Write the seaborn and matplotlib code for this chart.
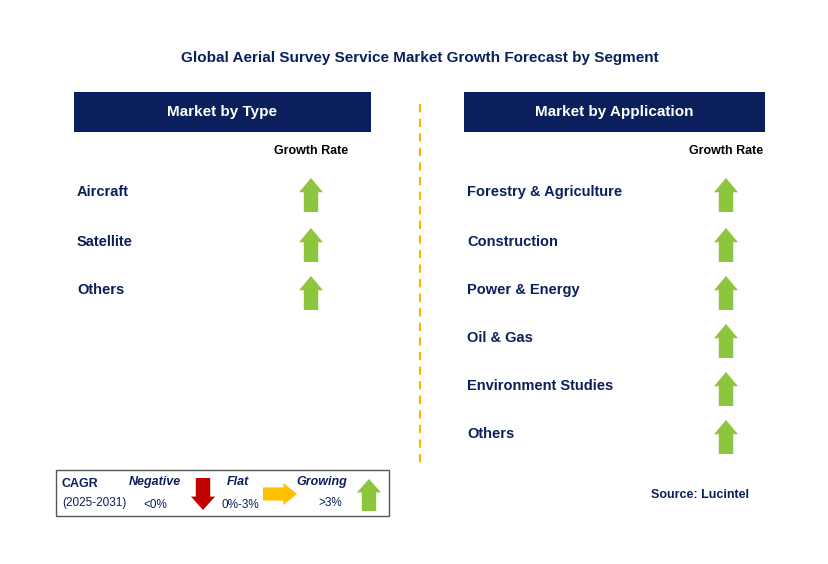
import matplotlib
matplotlib.use("Agg")
import matplotlib.pyplot as plt
import seaborn as sns
from matplotlib.patches import Polygon, Rectangle

sns.set_theme(style="white", font="Liberation Sans")

title = "Global Aerial Survey Service Market Growth Forecast by Segment"
type_segments = ["Aircraft", "Satellite", "Others"]
type_growth = ["Growing", "Growing", "Growing"]
app_segments = ["Forestry & Agriculture", "Construction", "Power & Energy",
                "Oil & Gas", "Environment Studies", "Others"]
app_growth = ["Growing"] * 6

NAVY = "#0b1f5c"
GREEN = "#8cc63f"
RED = "#c00000"
ORANGE = "#ffc000"

fig = plt.figure(figsize=(8.29, 5.64), dpi=100)
ax = fig.add_axes([0, 0, 1, 1])
ax.set_xlim(0, 829)
ax.set_ylim(564, 0)
ax.axis("off")


def up_arrow(cx, cy, color, w=24, h=34):
    hw = w / 2
    sw = w * 0.3
    pts = [(cx, cy - h / 2), (cx + hw, cy - h / 2 + h * 0.42), (cx + sw, cy - h / 2 + h * 0.42),
           (cx + sw, cy + h / 2), (cx - sw, cy + h / 2), (cx - sw, cy - h / 2 + h * 0.42),
           (cx - hw, cy - h / 2 + h * 0.42)]
    ax.add_patch(Polygon(pts, closed=True, color=color, lw=0))


def down_arrow(cx, cy, color, w=24, h=32):
    hw = w / 2
    sw = w * 0.3
    pts = [(cx, cy + h / 2), (cx + hw, cy + h / 2 - h * 0.42), (cx + sw, cy + h / 2 - h * 0.42),
           (cx + sw, cy - h / 2), (cx - sw, cy - h / 2), (cx - sw, cy + h / 2 - h * 0.42),
           (cx - hw, cy + h / 2 - h * 0.42)]
    ax.add_patch(Polygon(pts, closed=True, color=color, lw=0))


def right_arrow(cx, cy, color, w=34, h=22):
    hh = h / 2
    sh = h * 0.3
    pts = [(cx + w / 2, cy), (cx + w / 2 - w * 0.4, cy - hh), (cx + w / 2 - w * 0.4, cy - sh),
           (cx - w / 2, cy - sh), (cx - w / 2, cy + sh), (cx + w / 2 - w * 0.4, cy + sh),
           (cx + w / 2 - w * 0.4, cy + hh)]
    ax.add_patch(Polygon(pts, closed=True, color=color, lw=0))


arrow_fn = {"Growing": (up_arrow, GREEN), "Flat": (right_arrow, ORANGE), "Negative": (down_arrow, RED)}

ax.text(420, 58, title, ha="center", va="center", fontsize=11, fontweight="bold", color=NAVY)

# panels
panels = [
    (74, 371, "Market by Type", type_segments, type_growth, 77, 311, [192, 242, 290]),
    (464, 765, "Market by Application", app_segments, app_growth, 467, 726,
     [192, 242, 290, 338, 386, 434]),
]
for x0, x1, head, segs, growth, tx, ax_x, ys in panels:
    ax.add_patch(Rectangle((x0, 92), x1 - x0, 40, color=NAVY, lw=0))
    ax.text((x0 + x1) / 2, 112, head, ha="center", va="center", fontsize=11,
            fontweight="bold", color="white")
    ax.text(ax_x, 151, "Growth Rate", ha="center", va="center", fontsize=9,
            fontweight="bold", color="black")
    for seg, g, y in zip(segs, growth, ys):
        ax.text(tx, y, seg, ha="left", va="center", fontsize=10.5, fontweight="bold", color=NAVY)
        fn, col = arrow_fn[g]
        fn(ax_x, y + 3, col)

ax.plot([420, 420], [104, 464], ls=(0, (4, 3)), color="#f5b800", lw=1.5)

# legend box
ax.add_patch(Rectangle((56, 470), 333, 46, fill=False, ec="#555555", lw=1))
ax.text(62, 484, "CAGR", fontsize=9, fontweight="bold", color=NAVY, va="center")
ax.text(62, 503, "(2025-2031)", fontsize=8.5, color=NAVY, va="center")
ax.text(155, 482, "Negative", fontsize=9, fontweight="bold", style="italic", color=NAVY, va="center", ha="center")
ax.text(155, 505, "<0%", fontsize=8.5, color=NAVY, va="center", ha="center")
down_arrow(203, 494, RED, w=24, h=32)
ax.text(238, 482, "Flat", fontsize=9, fontweight="bold", style="italic", color=NAVY, va="center", ha="center")
ax.text(240, 505, "0%-3%", fontsize=8.5, color=NAVY, va="center", ha="center")
right_arrow(280, 494, ORANGE, w=34, h=22)
ax.text(322, 482, "Growing", fontsize=9, fontweight="bold", style="italic", color=NAVY, va="center", ha="center")
ax.text(330, 503, ">3%", fontsize=8.5, color=NAVY, va="center", ha="center")
up_arrow(369, 495, GREEN, w=24, h=32)

ax.text(700, 495, "Source: Lucintel", ha="center", va="center", fontsize=9,
        fontweight="bold", color=NAVY)

fig.savefig("out.png", dpi=100)
